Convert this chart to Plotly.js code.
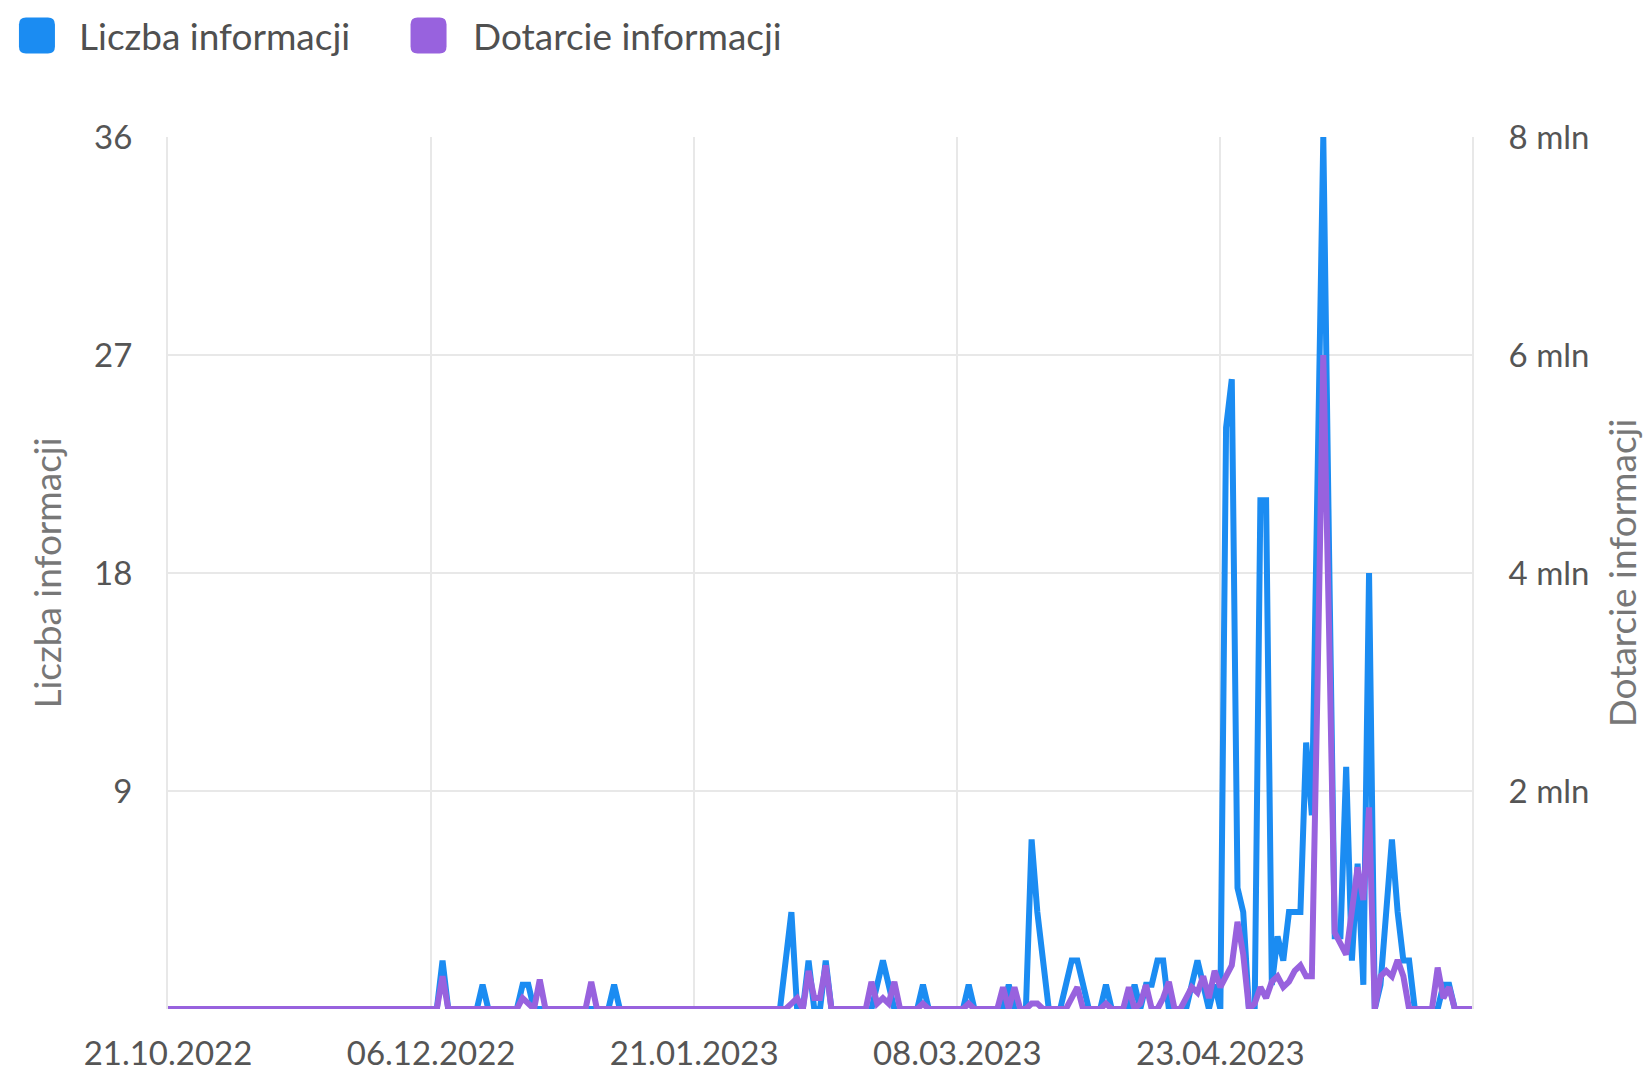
<!DOCTYPE html>
<html>
<head>
<meta charset="utf-8">
<script src="https://cdn.plot.ly/plotly-3.0.1.min.js"></script>
<style>
html,body{margin:0;padding:0;background:#ffffff;}
#chart{width:1649px;height:1078px;}
</style>
</head>
<body>
<div id="chart"></div>
<script>
// ---------------- DATA ----------------
const START_DATE = '2022-10-21';
const seriesNames = ['Liczba informacji', 'Dotarcie informacji'];

// Liczba informacji (daily count), by month
const countOct = [0,0,0,0,0,0,0,0,0,0,0];
const countNov = [0,0,0,0,0,0,0,0,0,0, 0,0,0,0,0,0,0,0,0,0, 0,0,0,0,0,0,0,0,0,0];
const countDec = [0,0,0,0,0,0,0,2,0,0, 0,0,0,0,1,0,0,0,0,0, 0,1,1,0,0,0,0,0,0,0, 0];
const countJan = [0,0,0,0,0,0,1,0,0,0, 0,0,0,0,0,0,0,0,0,0, 0,0,0,0,0,0,0,0,0,0, 0];
const countFeb = [0,0,0,0,0,2,4,0,0,2, 0,0,2,0,0,0,0,0,0,0, 0,1,2,1,0,0,0,0];
const countMar = [0,1,0,0,0,0,0,0,0,1, 0,0,0,0,0,0,1,0,0,0, 7,4,2,0,0,0,1,2,2,1, 0];
const countApr = [0,0,1,0,0,0,0,1,0,1, 1,2,2,0,0,0,0,1,2,1, 0,1,0,24,26,5,4,0,0,21];
const countMay = [21,1,3,2,4,4,4,11,8,22, 36,19,3,3,10,2,6,1,18,0, 1,4,7,4,2,2,0,0,0,0, 0];
const countJun = [1,1,0,0,0,0];

// Dotarcie informacji (reach, in millions), by month
const reachOct = [0,0,0,0,0,0,0,0,0,0,0];
const reachNov = [0,0,0,0,0,0,0,0,0,0, 0,0,0,0,0,0,0,0,0,0, 0,0,0,0,0,0,0,0,0,0];
const reachDec = [0,0,0,0,0,0,0,0.3,0,0, 0,0,0,0,0,0,0,0,0,0, 0,0.1,0.05,0,0.27,0,0,0,0,0, 0];
const reachJan = [0,0,0.25,0,0,0,0,0,0,0, 0,0,0,0,0,0,0,0,0,0, 0,0,0,0,0,0,0,0,0,0, 0];
const reachFeb = [0,0,0,0,0,0,0.05,0.1,0,0.35, 0.1,0.1,0.4,0,0,0,0,0,0,0, 0.25,0.05,0.1,0.05,0.25,0,0,0];
const reachMar = [0,0.05,0,0,0,0,0,0,0,0.05, 0,0,0,0,0,0.2,0,0.2,0,0, 0.05,0.05,0,0,0,0,0,0.1,0.2,0, 0];
const reachApr = [0,0,0.05,0,0,0,0.2,0,0.05,0.22, 0,0,0.1,0.25,0,0,0.1,0.2,0.15,0.3, 0.1,0.35,0.2,0.3,0.4,0.8,0.5,0,0.05,0.2];
const reachMay = [0.1,0.25,0.3,0.2,0.25,0.35,0.4,0.3,0.3,3.0, 6.0,3.5,0.7,0.6,0.5,0.9,1.3,1.0,1.85,0, 0.3,0.35,0.3,0.45,0.3,0,0,0,0,0, 0.38];
const reachJun = [0.1,0.2,0,0,0,0];

// Axis ticks
const xTickDates  = ['2022-10-21', '2022-12-06', '2023-01-21', '2023-03-08', '2023-04-23'];
const xTickLabels = ['21.10.2022', '06.12.2022', '21.01.2023', '08.03.2023', '23.04.2023'];
const leftTickVals  = [9, 18, 27, 36];
const rightTickVals = [2, 4, 6, 8];
const rightTickLabels = ['2 mln', '4 mln', '6 mln', '8 mln'];

// ---------------- BUILD ----------------
const counts = [].concat(countOct, countNov, countDec, countJan, countFeb, countMar, countApr, countMay, countJun);
const reach  = [].concat(reachOct, reachNov, reachDec, reachJan, reachFeb, reachMar, reachApr, reachMay, reachJun);
const [sy, sm, sd] = START_DATE.split('-').map(Number);
const dates = counts.map((_, i) => new Date(Date.UTC(sy, sm - 1, sd + i)).toISOString().slice(0, 10));

const BLUE = '#1b8cf2';
const PURPLE = '#9862de';
const GRID = '#e8e8e8';
const FONT = 'Lato, "Open Sans", sans-serif';

const traces = [
  {x: dates, y: counts, name: seriesNames[0], type: 'scatter', mode: 'lines',
   line: {color: BLUE, width: 6}, yaxis: 'y', showlegend: false},
  {x: dates, y: reach, name: seriesNames[1], type: 'scatter', mode: 'lines',
   line: {color: PURPLE, width: 6}, yaxis: 'y2', showlegend: false}
];

function roundedSquare(half, r) {
  const a = half, b = half - r;
  return `M ${-a},${-b} Q ${-a},${-a} ${-b},${-a} L ${b},${-a} Q ${a},${-a} ${a},${-b} ` +
         `L ${a},${b} Q ${a},${a} ${b},${a} L ${-b},${a} Q ${-a},${a} ${-a},${b} Z`;
}

const legendItems = [
  {color: BLUE, cx: -0.1005, tx: -0.0695, text: seriesNames[0]},
  {color: PURPLE, cx: 0.1998, tx: 0.2325, text: seriesNames[1]}
];

const shapes = legendItems.map(it => ({
  type: 'path', xref: 'paper', yref: 'paper', xsizemode: 'pixel', ysizemode: 'pixel',
  xanchor: it.cx, yanchor: 1.1165, path: roundedSquare(18, 7),
  fillcolor: it.color, line: {width: 0}
}));

const annotations = legendItems.map(it => ({
  xref: 'paper', yref: 'paper', x: it.tx, y: 1.1165, xanchor: 'left', yanchor: 'middle',
  text: it.text, showarrow: false, font: {family: FONT, size: 37, color: '#505050'}
}));

const layout = {
  width: 1649, height: 1078,
  margin: {l: 168, r: 177, t: 137, b: 69},
  paper_bgcolor: '#ffffff', plot_bgcolor: '#ffffff',
  font: {family: FONT, color: '#555555'},
  showlegend: false,
  xaxis: {
    type: 'date', range: [dates[0], dates[dates.length - 1]],
    tickvals: xTickDates, ticktext: xTickLabels,
    showgrid: true, gridcolor: GRID, gridwidth: 2,
    zeroline: false, showline: false, ticks: '',
    tickfont: {family: FONT, size: 33, color: '#555555'},
    ticklabelstandoff: 22
  },
  yaxis: {
    range: [0, 36], tickvals: leftTickVals,
    showgrid: true, gridcolor: GRID, gridwidth: 2,
    zeroline: false, showline: true, linecolor: GRID, linewidth: 2, ticks: '',
    tickfont: {family: FONT, size: 33, color: '#555555'},
    ticklabelstandoff: 27,
    title: {text: seriesNames[0], font: {family: FONT, size: 37, color: '#777777'}, standoff: 21}
  },
  yaxis2: {
    range: [0, 8], tickvals: rightTickVals, ticktext: rightTickLabels,
    overlaying: 'y', side: 'right',
    showgrid: false, zeroline: false, showline: true, linecolor: GRID, linewidth: 2, ticks: '',
    tickfont: {family: FONT, size: 33, color: '#555555'},
    ticklabelstandoff: 28,
    title: {text: seriesNames[1], font: {family: FONT, size: 37, color: '#777777'}, standoff: 22}
  },
  shapes: shapes,
  annotations: annotations
};

Plotly.newPlot('chart', traces, layout, {displayModeBar: false, staticPlot: true});
</script>
</body>
</html>
